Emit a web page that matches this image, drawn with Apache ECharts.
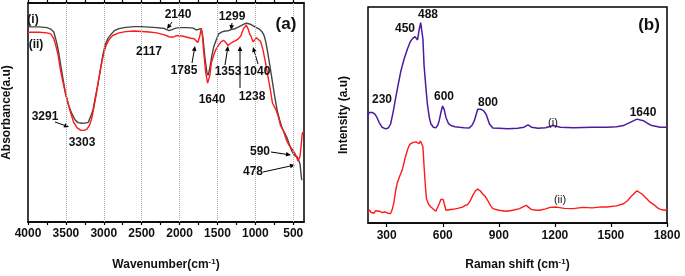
<!DOCTYPE html>
<html>
<head>
<meta charset="utf-8">
<script src="https://cdn.jsdelivr.net/npm/echarts@6/dist/echarts.min.js"></script>
<style>
  html, body { margin: 0; padding: 0; background: #fff; }
  #chart { width: 685px; height: 276px; }
</style>
</head>
<body>
<div id="chart"></div>
<script>
// (a) FTIR: [wavenumber, absorbance a.u.]
const ftirI = [
  [4000, 202.3], [3850, 202.3], [3750, 201.5], [3700, 200], [3660, 197], [3635, 190],
  [3600, 178], [3570, 163.3], [3506, 133.3], [3460, 120], [3420, 112], [3380, 106],
  [3340, 103], [3291, 102.3], [3250, 102.5], [3205, 103.3], [3170, 110], [3140, 117],
  [3110, 130], [3076, 143.3], [3040, 160], [3012, 173.3], [2980, 184], [2947, 190],
  [2900, 195], [2861, 198.3], [2800, 200.5], [2710, 201.7], [2600, 202.5], [2500, 202.5],
  [2400, 202], [2300, 201.5], [2200, 200.5], [2140, 198.3], [2100, 199.5], [2050, 201],
  [2000, 201.5], [1900, 201.5], [1820, 201], [1780, 199], [1740, 200], [1712, 200.5],
  [1690, 190], [1665, 170], [1640, 155], [1622, 152], [1600, 160], [1575, 172],
  [1548, 182], [1510, 190], [1484, 195], [1440, 197], [1400, 198], [1355, 198.3],
  [1320, 199.5], [1299, 198.5], [1280, 200], [1240, 201.5], [1200, 203], [1150, 205],
  [1119, 206], [1085, 205.5], [1055, 204.5], [1000, 202], [947, 200], [910, 197],
  [883, 193], [860, 186], [839, 176.7], [810, 163], [774, 145], [740, 128], [710, 115],
  [680, 106], [646, 97], [610, 92], [581, 87], [550, 80], [517, 73.3], [474, 68.3],
  [445, 67.5], [431, 67], [410, 60], [395, 48], [388, 43.3]
];
const ftirII = [
  [4000, 196.7], [3850, 196.7], [3750, 196], [3700, 195], [3660, 190], [3635, 183.3],
  [3600, 172], [3570, 156.7], [3530, 142], [3484, 126.7], [3440, 114], [3398, 103.3],
  [3350, 97.5], [3303, 95], [3260, 95], [3226, 96], [3190, 100], [3161, 106.7],
  [3130, 119], [3097, 133.3], [3065, 149], [3032, 163.3], [3000, 175], [2968, 183.3],
  [2930, 189], [2883, 193.3], [2800, 196], [2710, 197.3], [2600, 198], [2500, 197.5],
  [2400, 197], [2300, 196], [2200, 194], [2140, 192], [2117, 190.7], [2085, 191.5],
  [2050, 193], [2000, 193], [1950, 192.5], [1900, 191.5], [1850, 190.5], [1807, 190],
  [1790, 189.5], [1760, 186], [1735, 192], [1715, 200], [1700, 195], [1680, 175],
  [1655, 155], [1630, 144], [1618, 143], [1600, 152], [1580, 165], [1548, 173.3],
  [1520, 179], [1484, 183.3], [1450, 187], [1420, 188.3], [1390, 186], [1360, 183],
  [1330, 185], [1290, 187], [1260, 188], [1230, 189.5], [1206, 190], [1190, 193],
  [1175, 196.7], [1150, 201], [1119, 204], [1095, 200], [1075, 195], [1055, 192],
  [1030, 186.7], [1012, 187], [985, 191], [960, 191.7], [930, 187], [904, 180],
  [870, 167], [839, 153.3], [800, 136], [774, 123.3], [732, 117], [700, 110],
  [689, 106.7], [668, 100], [640, 96], [625, 93.3], [590, 85], [560, 80], [520, 76],
  [496, 73.3], [470, 70], [450, 66], [439, 63.3], [420, 66], [410, 68.3], [395, 80],
  [380, 92], [362, 94]
];
// (b) Raman: [shift, intensity a.u.]
const ramanI = [
  [196, 107], [205, 113], [214, 114], [225, 113], [237, 111.3], [248, 108], [259, 103],
  [275, 98], [295, 96.3], [310, 97.5], [321, 101.3], [335, 114], [348, 128], [362, 142],
  [375, 154.7], [392, 167], [411, 178], [425, 185], [438, 188.7], [452, 190.7],
  [465, 187.3], [474, 198], [482, 205], [488, 205.3], [494, 188], [500, 161.3],
  [510, 138], [518, 121.3], [528, 108], [537, 101.3], [550, 98], [563, 97.3],
  [573, 100], [581, 104.7], [590, 113], [599, 119.7], [608, 116], [617, 108],
  [630, 102], [644, 99.7], [665, 98.5], [689, 98], [715, 97.5], [742, 97.3],
  [757, 100], [769, 104.7], [787, 116.3], [796, 118], [805, 116.3], [818, 115],
  [832, 111.3], [850, 101.3], [868, 97.3], [900, 97], [950, 96.5], [1000, 97],
  [1035, 98], [1056, 100.3], [1075, 98], [1110, 97], [1150, 97.5], [1190, 99.7],
  [1230, 98], [1300, 97.5], [1400, 98], [1480, 98], [1530, 98.5], [1567, 99.7],
  [1603, 103], [1639, 106.3], [1674, 104.7], [1700, 101.5], [1719, 99.7],
  [1764, 98], [1800, 98]
];
const ramanII = [
  [200, 10.7], [208, 13.5], [215, 11], [223, 13], [232, 10], [240, 12.5], [250, 10.5],
  [262, 12], [277, 10.7], [290, 11.5], [305, 10], [321, 9.7], [330, 14], [339, 21.3],
  [348, 33], [357, 41.3], [370, 48], [384, 54.7], [398, 66], [411, 74.7], [420, 79],
  [429, 81.3], [442, 82.5], [456, 83], [466, 82], [474, 81.3], [481, 84], [488, 85.3],
  [494, 78], [500, 58], [507, 38], [513, 24.7], [525, 19], [537, 16.3], [550, 14],
  [563, 12], [573, 14], [581, 19.7], [590, 24], [596, 25.3], [603, 24], [608, 19.7],
  [617, 13], [635, 13.5], [653, 14], [680, 15], [706, 16.3], [720, 18], [733, 18.7],
  [748, 23], [760, 28], [775, 33], [787, 34.7], [800, 33], [814, 29.7], [828, 27],
  [841, 23], [855, 18], [868, 14.7], [900, 13], [940, 12], [975, 13], [1011, 14.7],
  [1035, 17], [1047, 18], [1060, 16], [1074, 14], [1100, 13], [1119, 13], [1150, 14.5],
  [1175, 16], [1208, 16.3], [1250, 15], [1298, 14.7], [1350, 16], [1400, 15.5],
  [1450, 16.5], [1477, 16.3], [1530, 17.5], [1567, 19.7], [1590, 23], [1612, 28],
  [1639, 33], [1666, 29.7], [1690, 25], [1710, 21.3], [1735, 18], [1755, 14.7],
  [1775, 13.5], [1791, 13], [1800, 14]
];

const ftirTicks = [500, 750, 1000, 1250, 1500, 1750, 2000, 2250, 2500, 2750, 3000, 3250, 3500, 3750, 4000];
const ftirLabels = [500, 1000, 1500, 2000, 2500, 3000, 3500, 4000];
const ftirGrid = [500, 1000, 1500, 2000, 2500, 3000, 3500];
const ramanTicks = [300, 600, 900, 1200, 1500, 1800];

const FONT = '"Liberation Sans", Arial, sans-serif';

// annotations: [text, x, y, size, weight]
const notes = [
  ['(i)', 33, 20, 12, 'bold'], ['(ii)', 36, 45, 12, 'bold'],
  ['2140', 178, 15, 12, 'bold'], ['1299', 232, 17, 12, 'bold'],
  ['2117', 149, 52, 12, 'bold'], ['1785', 184, 71, 12, 'bold'],
  ['1353', 228, 72, 12, 'bold'], ['1040', 257, 72, 12, 'bold'],
  ['1640', 212, 100, 12, 'bold'], ['1238', 252, 97, 12, 'bold'],
  ['3291', 45, 117, 12, 'bold'], ['3303', 82, 143, 12, 'bold'],
  ['590', 260, 152, 12, 'bold'], ['478', 253, 172, 12, 'bold'],
  ['(a)', 286, 24, 17, 'bold'],
  ['230', 382, 100, 12, 'bold'], ['450', 405, 29, 12, 'bold'],
  ['488', 428, 15, 12, 'bold'], ['600', 444, 97, 12, 'bold'],
  ['800', 488, 103, 12, 'bold'], ['1640', 643, 113, 12, 'bold'],
  ['(i)', 553, 123, 11, 'normal'], ['(ii)', 560, 200, 11, 'normal'],
  ['(b)', 649, 25, 17, 'bold']
];
const arrows = [
  [172, 22, 167, 29], [232, 23, 231, 30], [192, 63, 195, 46], [225, 65, 228, 46],
  [240, 88, 240, 46], [258, 64, 253, 47], [55, 122, 69, 127], [271, 152, 291, 155],
  [263, 172, 295, 165]
];

function arrowGraphic(a) {
  const [x1, y1, x2, y2] = a;
  const ang = Math.atan2(y2 - y1, x2 - x1);
  const L = 5, W = 2.3;
  const bx = x2 - L * Math.cos(ang), by = y2 - L * Math.sin(ang);
  const px = -Math.sin(ang) * W, py = Math.cos(ang) * W;
  return [
    { type: 'line', shape: { x1, y1, x2: bx, y2: by }, style: { stroke: '#000', lineWidth: 1 } },
    { type: 'polygon', shape: { points: [[x2, y2], [bx + px, by + py], [bx - px, by - py]] }, style: { fill: '#000' } }
  ];
}

const graphics = [];
notes.forEach(n => graphics.push({
  type: 'text', x: n[1], y: n[2], z: 100,
  style: { text: n[0], fill: '#111', font: n[4] + ' ' + n[3] + 'px ' + FONT, align: 'center', verticalAlign: 'middle' }
}));
arrows.forEach(a => graphics.push(...arrowGraphic(a)));

const nameRich = {
  t: { fontSize: 12, fontWeight: 'bold', fontFamily: FONT, color: '#111', lineHeight: 14 },
  s: { fontSize: 8, fontWeight: 'bold', fontFamily: FONT, color: '#111', verticalAlign: 'top', lineHeight: 8 }
};
const axLine = { show: true, lineStyle: { color: '#000', width: 1.5 } };
const lbl = { fontSize: 12, fontWeight: 'bold', fontFamily: FONT, color: '#111', formatter: v => String(v) };

const chart = echarts.init(document.getElementById('chart'), null, { renderer: 'canvas' });
chart.setOption({
  animation: false,
  backgroundColor: '#fff',
  grid: [
    { left: 22, top: 3, right: 381, bottom: 46, show: true, borderColor: '#000', borderWidth: 1.5 },
    { left: 368, top: 7, right: 18, bottom: 48, show: true, borderColor: '#000', borderWidth: 1.5 }
  ],
  xAxis: [
    {
      gridIndex: 0, type: 'value', min: 358, max: 4000, inverse: true, position: 'bottom',
      axisLine: axLine,
      axisTick: { show: true, length: 3, customValues: ftirTicks, lineStyle: { color: '#000', width: 1.2 } },
      axisLabel: Object.assign({ customValues: ftirLabels, margin: 6 }, lbl),
      splitLine: { show: false },
      name: '{t|Wavenumber(cm}{s|-1}{t|)}', nameLocation: 'middle', nameGap: 36,
      nameTextStyle: { rich: nameRich }
    },
    {
      gridIndex: 0, type: 'value', min: 358, max: 4000, inverse: true, position: 'top',
      axisLine: axLine,
      axisTick: { show: true, length: 3, customValues: ftirTicks, lineStyle: { color: '#000', width: 1.2 } },
      axisLabel: { show: false }, splitLine: { show: false }
    },
    {
      gridIndex: 1, type: 'value', min: 200, max: 1800, position: 'bottom',
      axisLine: axLine,
      axisTick: { show: true, length: 4, customValues: ramanTicks, lineStyle: { color: '#000', width: 1.2 } },
      axisLabel: Object.assign({ customValues: ramanTicks, margin: 7 }, lbl),
      splitLine: { show: false },
      name: '{t|Raman shift (cm}{s|-1}{t|)}', nameLocation: 'middle', nameGap: 35,
      nameTextStyle: { rich: nameRich }
    }
  ],
  yAxis: [
    {
      gridIndex: 0, type: 'value', min: 0, max: 227,
      axisLine: { show: false }, axisTick: { show: false }, axisLabel: { show: false }, splitLine: { show: false },
      name: 'Absorbance(a.u)', nameLocation: 'middle', nameGap: 15,
      nameTextStyle: { fontSize: 12, fontWeight: 'bold', fontFamily: FONT, color: '#111' }
    },
    {
      gridIndex: 1, type: 'value', min: 0, max: 221,
      axisLine: { show: false }, axisTick: { show: false }, axisLabel: { show: false }, splitLine: { show: false },
      name: 'Intensity (a.u)', nameLocation: 'middle', nameGap: 18,
      nameTextStyle: { fontSize: 12, fontWeight: 'bold', fontFamily: FONT, color: '#111' }
    }
  ],
  series: [
    {
      name: 'grid', type: 'line', xAxisIndex: 0, yAxisIndex: 0, data: [], z: 0, silent: true,
      markLine: {
        silent: true, symbol: ['none', 'none'], label: { show: false },
        lineStyle: { type: 'dotted', color: '#aaa', width: 1 },
        data: ftirGrid.map(v => ({ xAxis: v }))
      }
    },
    {
      name: '(i)', type: 'line', xAxisIndex: 0, yAxisIndex: 0, data: ftirI, showSymbol: false,
      lineStyle: { color: '#444', width: 1.4 }, z: 3
    },
    {
      name: '(ii)', type: 'line', xAxisIndex: 0, yAxisIndex: 0, data: ftirII, showSymbol: false,
      lineStyle: { color: '#ff1a1a', width: 1.4 }, z: 4
    },
    {
      name: 'Raman (i)', type: 'line', xAxisIndex: 2, yAxisIndex: 1, data: ramanI, showSymbol: false,
      lineStyle: { color: '#4b1c9e', width: 1.5 }
    },
    {
      name: 'Raman (ii)', type: 'line', xAxisIndex: 2, yAxisIndex: 1, data: ramanII, showSymbol: false,
      lineStyle: { color: '#ff1a1a', width: 1.4 }
    }
  ],
  graphic: graphics
});
</script>
</body>
</html>
